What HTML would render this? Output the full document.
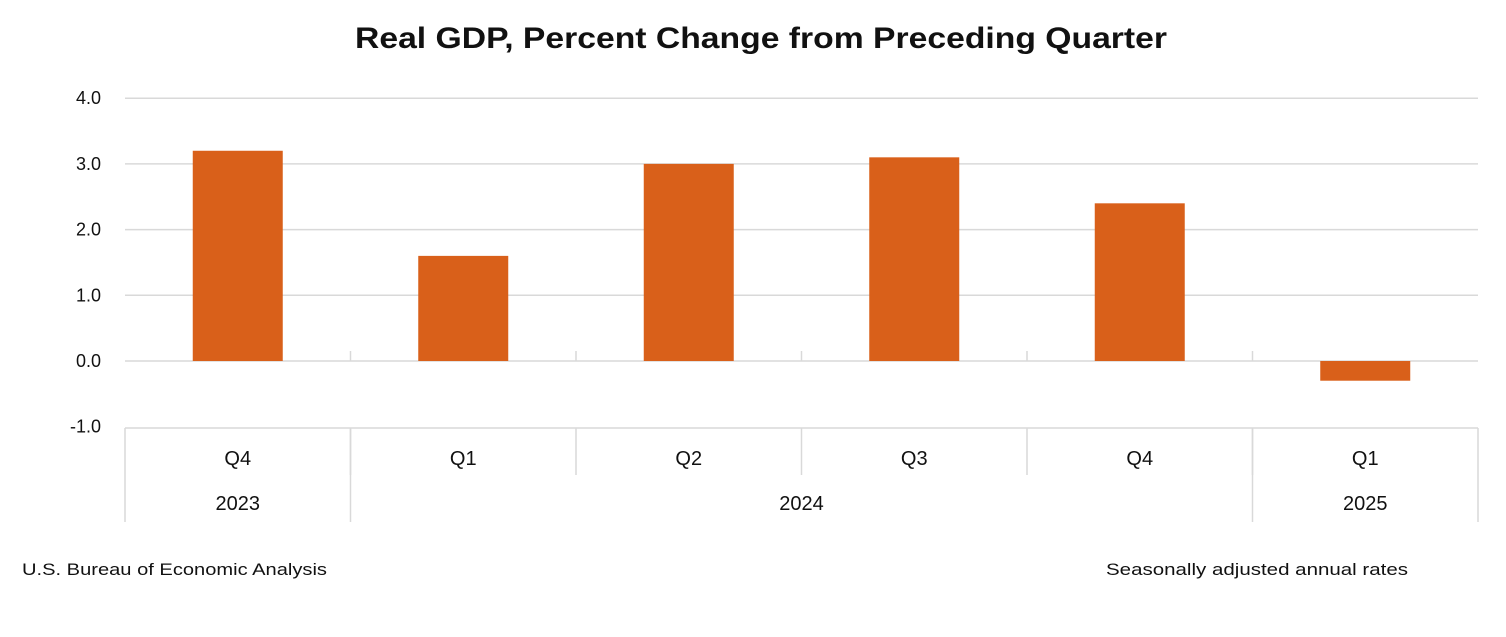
<!DOCTYPE html>
<html><head><meta charset="utf-8"><style>
body{margin:0;background:#fff;}
svg text{font-family:"Liberation Sans",sans-serif;fill:#111;}
</style></head><body>
<svg id="chart" width="1506" height="632">
<text x="355" y="48" font-size="30" font-weight="bold" textLength="812" lengthAdjust="spacingAndGlyphs">Real GDP, Percent Change from Preceding Quarter</text>
<g id="grid"></g><g id="bars"></g><g id="axis"></g>
<text x="22" y="575" font-size="17" textLength="305" lengthAdjust="spacingAndGlyphs">U.S. Bureau of Economic Analysis</text>
<text x="1106" y="575" font-size="17" textLength="302" lengthAdjust="spacingAndGlyphs">Seasonally adjusted annual rates</text>
</svg>
<script>
const quarters=["Q4","Q1","Q2","Q3","Q4","Q1"];
const values=[3.2,1.6,3.0,3.1,2.4,-0.3];
const yTicks=[4,3,2,1,0,-1];
const yTickLabels=["4.0","3.0","2.0","1.0","0.0","-1.0"];
const years=["2023","2024","2025"];
const yearSpans=[1,4,1];
const NS="http://www.w3.org/2000/svg";
const x0=125,x1=1478,n=quarters.length,cw=(x1-x0)/n;
const y=v=>361-v*65.7;
function mk(t,a,p){const e=document.createElementNS(NS,t);for(const k in a)e.setAttribute(k,a[k]);p.appendChild(e);return e;}
const grid=document.getElementById('grid'),bars=document.getElementById('bars'),axis=document.getElementById('axis');
yTicks.forEach((v,i)=>{
  if(v>-1){const l=mk('line',{x1:x0,x2:x1,y1:y(v),y2:y(v),stroke:'#d9d9d9','stroke-width':1.5},grid);
  
  }
  const t=mk('text',{x:101,y:y(v)+6,'text-anchor':'end','font-size':18},axis);t.textContent=yTickLabels[i];
  
  
});
values.forEach((v,i)=>{
  const cx=x0+cw*(i+0.5),top=Math.min(y(v),y(0)),h=Math.abs(y(v)-y(0));
  const r=mk('rect',{x:cx-45,y:top,width:90,height:h,fill:'#D9601A'},bars);
  
  
  const t=mk('text',{x:cx,y:465,'text-anchor':'middle','font-size':20},axis);t.textContent=quarters[i];
  
  
});
for(let i=1;i<n;i++){const xx=x0+cw*i;mk('line',{x1:xx,x2:xx,y1:351,y2:361,stroke:'#d9d9d9','stroke-width':1.5},axis);mk('line',{x1:xx,x2:xx,y1:428,y2:475,stroke:'#d9d9d9','stroke-width':1.5},axis);}
mk('line',{x1:x0,x2:x1,y1:428,y2:428,stroke:'#d9d9d9','stroke-width':1.5},axis);
let s=0;
[0].concat(yearSpans).forEach((sp,k)=>{s+=sp;const xx=x0+cw*s;mk('line',{x1:xx,x2:xx,y1:428,y2:522,stroke:'#d9d9d9','stroke-width':1.5},axis);});
s=0;years.forEach((yr,k)=>{const cx=x0+cw*(s+yearSpans[k]/2);s+=yearSpans[k];
  const t=mk('text',{x:cx,y:510,'text-anchor':'middle','font-size':20},axis);t.textContent=yr;
  
  });
</script>
</body></html>
